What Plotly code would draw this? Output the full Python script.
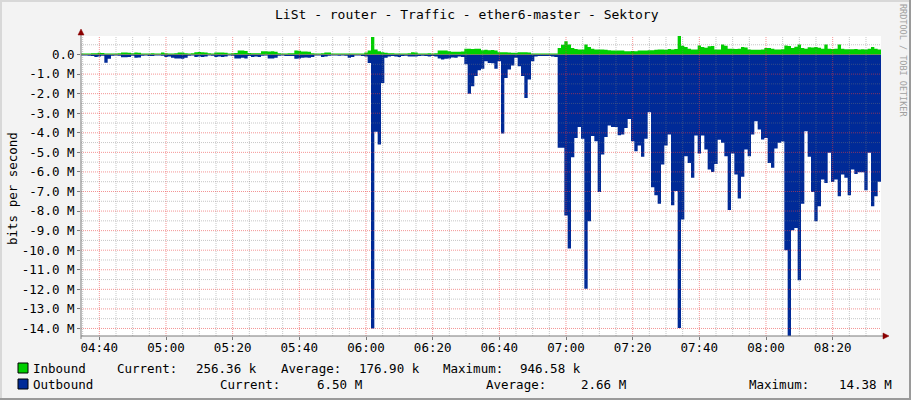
import plotly.graph_objects as go
import pandas as pd

TITLE = "LiSt - router - Traffic - ether6-master - Sektory"
Y_TITLE = "bits per second"
CREDIT = "RRDTOOL / TOBI OETIKER"
START = "2024-01-01 04:34:30"   # first 1-minute sample column

# Inbound traffic, Mbit/s (one value per minute)
inbound = [
    0.05, 0.05, 0.05, 0.06, 0.06, 0.085, 0.08, 0.05, 0.05, 0.05,
    0.05, 0.06, 0.10, 0.10, 0.09, 0.06, 0.10, 0.09, 0.05, 0.05,
    0.05, 0.06, 0.05, 0.05, 0.10, 0.06, 0.05, 0.05, 0.06, 0.10,
    0.10, 0.06, 0.05, 0.06, 0.12, 0.13, 0.12, 0.10, 0.06, 0.05,
    0.10, 0.10, 0.10, 0.09, 0.05, 0.06, 0.08, 0.20, 0.20, 0.18,
    0.08, 0.06, 0.06, 0.06, 0.17, 0.17, 0.15, 0.17, 0.14, 0.06,
    0.05, 0.05, 0.06, 0.06, 0.20, 0.19, 0.15, 0.15, 0.14, 0.06,
    0.05, 0.05, 0.06, 0.10, 0.10, 0.05, 0.05, 0.05, 0.05, 0.05,
    0.05, 0.05, 0.05, 0.05, 0.05, 0.10, 0.20, 0.90, 0.26, 0.17,
    0.12, 0.09, 0.07, 0.06, 0.05, 0.05, 0.05, 0.05, 0.06, 0.12,
    0.10, 0.05, 0.05, 0.05, 0.06, 0.05, 0.06, 0.20, 0.20, 0.20,
    0.17, 0.14, 0.14, 0.14, 0.15, 0.29, 0.29, 0.28, 0.30, 0.29,
    0.22, 0.24, 0.22, 0.23, 0.20, 0.12, 0.12, 0.12, 0.11, 0.085,
    0.09, 0.12, 0.12, 0.12, 0.10, 0.05, 0.05, 0.05, 0.05, 0.05,
    0.05, 0.05, 0.05, 0.34, 0.50, 0.68, 0.51, 0.34, 0.28, 0.26,
    0.26, 0.51, 0.39, 0.30, 0.26, 0.26, 0.26, 0.25, 0.22, 0.20,
    0.20, 0.20, 0.20, 0.17, 0.17, 0.18, 0.17, 0.20, 0.20, 0.20,
    0.22, 0.22, 0.25, 0.26, 0.26, 0.25, 0.28, 0.26, 0.28, 0.95,
    0.45, 0.39, 0.30, 0.26, 0.26, 0.46, 0.38, 0.35, 0.42, 0.43,
    0.26, 0.26, 0.51, 0.45, 0.30, 0.30, 0.28, 0.30, 0.39, 0.36,
    0.26, 0.25, 0.24, 0.25, 0.26, 0.34, 0.34, 0.30, 0.26, 0.26,
    0.27, 0.46, 0.44, 0.34, 0.40, 0.51, 0.33, 0.29, 0.37, 0.36,
    0.38, 0.35, 0.29, 0.51, 0.29, 0.28, 0.30, 0.51, 0.29, 0.27,
    0.27, 0.27, 0.28, 0.26, 0.27, 0.26, 0.30, 0.39, 0.30, 0.256,
]

# Outbound traffic, Mbit/s (drawn negative)
outbound = [
    -0.05, -0.05, -0.06, -0.08, -0.12, -0.10, -0.06, -0.42, -0.22, -0.06,
    -0.05, -0.06, -0.14, -0.14, -0.12, -0.06, -0.17, -0.15, -0.06, -0.05,
    -0.08, -0.08, -0.05, -0.05, -0.06, -0.12, -0.10, -0.17, -0.20, -0.20,
    -0.22, -0.17, -0.06, -0.05, -0.12, -0.10, -0.12, -0.10, -0.05, -0.06,
    -0.12, -0.10, -0.12, -0.10, -0.05, -0.06, -0.20, -0.20, -0.17, -0.20,
    -0.08, -0.12, -0.10, -0.12, -0.06, -0.05, -0.20, -0.20, -0.17, -0.06,
    -0.05, -0.08, -0.08, -0.08, -0.22, -0.20, -0.17, -0.15, -0.17, -0.12,
    -0.05, -0.05, -0.12, -0.10, -0.06, -0.05, -0.05, -0.06, -0.05, -0.06,
    -0.17, -0.12, -0.05, -0.05, -0.08, -0.10, -0.43, -14.00, -3.95, -4.60,
    -1.45, -0.17, -0.10, -0.08, -0.10, -0.12, -0.08, -0.06, -0.10, -0.10,
    -0.10, -0.08, -0.06, -0.07, -0.10, -0.08, -0.10, -0.20, -0.25, -0.22,
    -0.20, -0.15, -0.17, -0.10, -0.12, -0.50, -2.00, -1.62, -1.10, -0.80,
    -0.73, -0.34, -0.43, -0.45, -0.73, -0.34, -4.04, -1.20, -0.77, -0.56,
    -0.17, -0.60, -1.10, -2.22, -1.28, -0.34, -0.10, -0.08, -0.08, -0.07,
    -0.08, -0.10, -0.12, -4.77, -4.77, -8.23, -9.91, -5.25, -4.26, -3.70,
    -4.31, -11.97, -8.52, -4.17, -4.43, -7.03, -5.11, -4.22, -3.63, -3.70,
    -3.70, -4.12, -4.09, -3.75, -3.29, -4.43, -4.94, -4.65, -5.23, -4.31,
    -2.95, -6.78, -7.19, -7.63, -5.62, -4.65, -4.09, -7.70, -6.98, -13.98,
    -8.43, -5.20, -5.54, -6.30, -4.14, -5.06, -4.14, -4.85, -5.88, -6.00,
    -5.60, -4.35, -4.51, -5.20, -7.95, -5.06, -6.13, -7.36, -6.25, -4.85,
    -5.20, -4.09, -3.41, -3.83, -4.34, -4.26, -5.54, -5.79, -4.80, -4.51,
    -4.44, -10.00, -14.38, -8.98, -8.86, -11.53, -7.63, -3.92, -5.23, -7.03,
    -8.52, -7.75, -6.39, -6.56, -5.02, -6.52, -6.39, -7.24, -6.13, -6.30,
    -7.19, -5.88, -6.10, -6.01, -6.01, -6.93, -5.02, -7.75, -7.24, -6.50,
]

x_tick_labels = ["04:40", "05:00", "05:20", "05:40", "06:00", "06:20",
                 "06:40", "07:00", "07:20", "07:40", "08:00", "08:20"]
y_tick_vals = [0, -1, -2, -3, -4, -5, -6, -7, -8, -9, -10, -11, -12, -13, -14]
y_tick_text = ["0.0", "-1.0 M", "-2.0 M", "-3.0 M", "-4.0 M", "-5.0 M", "-6.0 M",
               "-7.0 M", "-8.0 M", "-9.0 M", "-10.0 M", "-11.0 M", "-12.0 M",
               "-13.0 M", "-14.0 M"]
y_minor_vals = [0.5, -0.5, -1.5, -2.5, -3.5, -4.5, -5.5, -6.5, -7.5, -8.5,
                -9.5, -10.5, -11.5, -12.5, -13.5]

series_names = ["Inbound", "Outbound"]
stat_current = ["256.36 k", "6.50 M"]
stat_average = ["176.90 k", "2.66 M"]
stat_maximum = ["946.58 k", "14.38 M"]

IN_COLOR = "#00CF00"
OUT_COLOR = "#002A97"
FONT = "DejaVu Sans Mono"

# ---- geometry (pixels) ----
W, H = 911, 400
PL, PR, PT, PB = 81, 881, 36, 336


def xp(px):
    return (px - PL) / (PR - PL)


def yp(py):
    return (PB - py) / (PB - PT)


times = pd.date_range(START, periods=len(inbound), freq="min")
t_end = times[-1] + pd.Timedelta(minutes=1)
x_ext = list(times) + [t_end]
in_ext = inbound + [inbound[-1]]
out_ext = outbound + [outbound[-1]]

day = START.split(" ")[0]
x_tick_vals = [pd.Timestamp(day + " " + t) for t in x_tick_labels]

fig = go.Figure()
fig.add_trace(go.Scatter(x=x_ext, y=out_ext, mode="lines", line_shape="hv",
                         line=dict(width=0, color=OUT_COLOR), fill="tozeroy",
                         fillcolor=OUT_COLOR, hoverinfo="skip"))
fig.add_trace(go.Scatter(x=x_ext, y=in_ext, mode="lines", line_shape="hv",
                         line=dict(width=0, color=IN_COLOR), fill="tozeroy",
                         fillcolor=IN_COLOR, hoverinfo="skip"))

shapes = []
MINOR_C = "rgba(120,120,120,0.42)"
MAJOR_C = "rgba(235,60,60,0.55)"
DASH = "1px,1px"

# vertical grid
minor_x = pd.date_range(day + " 04:35", day + " 08:30", freq="5min")
major_set = set(x_tick_vals)
for t in minor_x:
    if t in major_set:
        continue
    shapes.append(dict(type="line", xref="x", yref="paper", x0=t, x1=t, y0=0, y1=1,
                       layer="above", line=dict(color=MINOR_C, width=1, dash=DASH)))
for t in x_tick_vals:
    shapes.append(dict(type="line", xref="x", yref="paper", x0=t, x1=t, y0=0, y1=1,
                       layer="above", line=dict(color=MAJOR_C, width=1, dash=DASH)))
# horizontal grid
for v in y_minor_vals:
    shapes.append(dict(type="line", xref="paper", yref="y", x0=0, x1=1, y0=v, y1=v,
                       layer="above", line=dict(color=MINOR_C, width=1, dash=DASH)))
for v in y_tick_vals:
    shapes.append(dict(type="line", xref="paper", yref="y", x0=0, x1=1, y0=v, y1=v,
                       layer="above", line=dict(color=MAJOR_C, width=1, dash=DASH)))

AXIS_C = "#7a7a7a"
ARROW_C = "#8b0000"
# axis lines
shapes.append(dict(type="line", xref="paper", yref="paper", x0=xp(PL), x1=xp(884),
                   y0=yp(PB), y1=yp(PB), layer="above", line=dict(color=AXIS_C, width=1)))
shapes.append(dict(type="line", xref="paper", yref="paper", x0=xp(PL), x1=xp(PL),
                   y0=yp(PB + 3), y1=yp(33), layer="above", line=dict(color=AXIS_C, width=1)))
# arrows
shapes.append(dict(type="path", xref="paper", yref="paper", layer="above",
                   path=f"M {xp(883)},{yp(333)} L {xp(889)},{yp(PB)} L {xp(883)},{yp(339)} Z",
                   fillcolor=ARROW_C, line=dict(color=ARROW_C, width=0.5)))
shapes.append(dict(type="path", xref="paper", yref="paper", layer="above",
                   path=f"M {xp(78)},{yp(35)} L {xp(81)},{yp(29)} L {xp(84)},{yp(35)} Z",
                   fillcolor=ARROW_C, line=dict(color=ARROW_C, width=0.5)))

# legend swatches
for k, col in enumerate([IN_COLOR, OUT_COLOR]):
    cy = 368 + 16 * k
    shapes.append(dict(type="rect", xref="paper", yref="paper",
                       x0=xp(18), x1=xp(28), y0=yp(cy + 5), y1=yp(cy - 5),
                       fillcolor=col, line=dict(color="black", width=1)))

# canvas frame (3D style)
shapes.append(dict(type="rect", xref="paper", yref="paper", x0=xp(0), x1=xp(2),
                   y0=yp(H), y1=yp(0), fillcolor="#d8d8d8", line=dict(width=0)))
shapes.append(dict(type="rect", xref="paper", yref="paper", x0=xp(0), x1=xp(W),
                   y0=yp(2), y1=yp(0), fillcolor="#d8d8d8", line=dict(width=0)))
shapes.append(dict(type="rect", xref="paper", yref="paper", x0=xp(W - 2), x1=xp(W),
                   y0=yp(H), y1=yp(0), fillcolor="#9a9a9a", line=dict(width=0)))
shapes.append(dict(type="rect", xref="paper", yref="paper", x0=xp(0), x1=xp(W),
                   y0=yp(H), y1=yp(H - 2), fillcolor="#9a9a9a", line=dict(width=0)))

annotations = []
FS = 12.5


def text(s, px, py, anchor="left", size=FS, color="black", angle=0):
    annotations.append(dict(text=s, x=xp(px), y=yp(py), xref="paper", yref="paper",
                            xanchor=anchor, yanchor="middle", showarrow=False,
                            textangle=angle, borderpad=0,
                            font=dict(family=FONT, size=size, color=color)))


text(TITLE, 466.5, 14, anchor="center", size=13)
text(Y_TITLE, 12, 189, anchor="center", angle=-90)
text(CREDIT, 903, 60, anchor="center", size=8.5, color="#a0a0a0", angle=90)

# legend rows
row_pos = [
    dict(name=32, cur=116, curv=195, avg=280, avgv=358, mx=442, mxv=519),
    dict(name=32, cur=219, curv=316, avg=485, avgv=580, mx=748, mxv=838),
]
for k in range(2):
    cy = 368 + 16 * k
    p = row_pos[k]
    text(series_names[k], p["name"], cy)
    text("Current:", p["cur"], cy)
    text(stat_current[k], p["curv"], cy)
    text("Average:", p["avg"], cy)
    text(stat_average[k], p["avgv"], cy)
    text("Maximum:", p["mx"], cy)
    text(stat_maximum[k], p["mxv"], cy)

fig.update_layout(
    width=W, height=H,
    margin=dict(l=PL, r=W - PR, t=PT, b=H - PB, pad=0),
    paper_bgcolor="#f3f3f3", plot_bgcolor="white",
    showlegend=False,
    shapes=shapes, annotations=annotations,
    xaxis=dict(type="date", range=[times[0], t_end], tickvals=x_tick_vals,
               ticktext=x_tick_labels, showgrid=False, zeroline=False, showline=False,
               ticks="outside", ticklen=3, tickcolor=AXIS_C, automargin=False,
               ticklabelstandoff=-3,
               tickfont=dict(family=FONT, size=FS, color="black"), fixedrange=True),
    yaxis=dict(range=[-14.385, 0.947], tickvals=y_tick_vals, ticktext=y_tick_text,
               showgrid=False, zeroline=False, showline=False, ticks="outside",
               ticklen=3, tickcolor=AXIS_C, automargin=False,
               tickfont=dict(family=FONT, size=FS, color="black"), fixedrange=True),
)

fig.write_html(
    "out.html",
    config={"displayModeBar": False},
    post_script="document.body.style.margin='0px';document.body.style.padding='0px';"
                "document.body.style.overflow='hidden';",
)
